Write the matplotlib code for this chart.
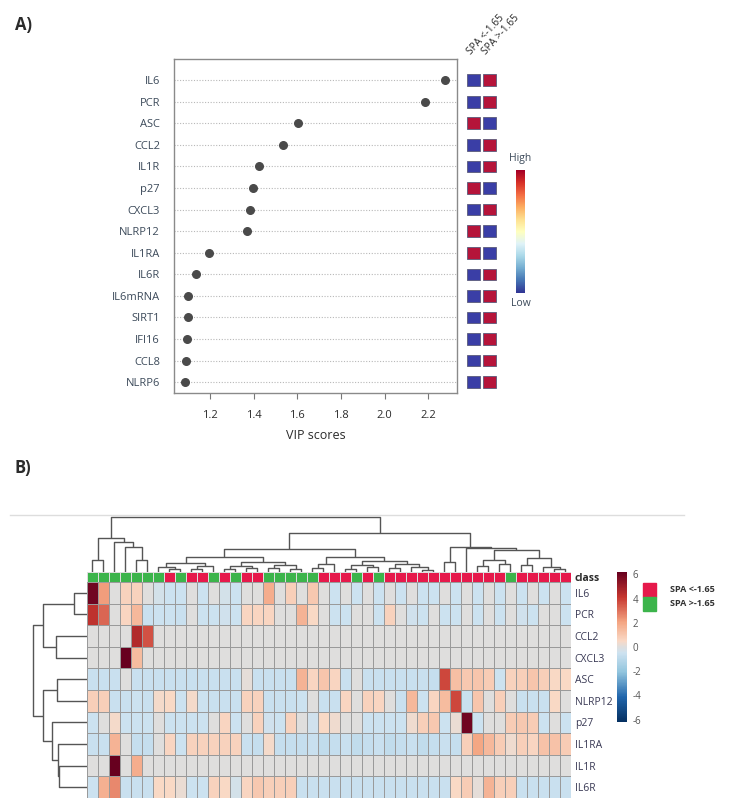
import matplotlib
matplotlib.use("Agg")
import matplotlib.pyplot as plt
import numpy as np
from matplotlib.colors import LinearSegmentedColormap, ListedColormap, Normalize
from matplotlib.cm import ScalarMappable
from matplotlib.lines import Line2D

# ---- panel A: VIP scores ----
VIP_FEATURES = ["IL6", "PCR", "ASC", "CCL2", "IL1R", "p27", "CXCL3", "NLRP12",
                "IL1RA", "IL6R", "IL6mRNA", "SIRT1", "IFI16", "CCL8", "NLRP6"]
VIP_SCORES = [2.275, 2.185, 1.605, 1.536, 1.426, 1.398, 1.383, 1.371,
              1.196, 1.135, 1.099, 1.097, 1.096, 1.089, 1.087]
# 1 -> feature is high in "SPA <-1.65", 0 -> high in "SPA >-1.65"
HIGH_IN_FIRST = [0, 0, 1, 0, 0, 1, 0, 1, 1, 0, 0, 0, 0, 0, 0]
GROUPS = ["SPA <-1.65", "SPA >-1.65"]
VIP_TICKS = [1.2, 1.4, 1.6, 1.8, 2.0, 2.2]

# ---- panel B: clustered heatmap ----
GENES = ["IL6", "PCR", "CCL2", "CXCL3", "ASC", "NLRP12", "p27", "IL1RA",
         "IL1R", "IL6R"]
# 0 -> SPA <-1.65, 1 -> SPA >-1.65
SAMPLE_CLASS = [1, 1, 1, 1, 1, 1, 1, 0, 1, 0, 0, 1, 0, 1, 0, 0, 1, 1, 1, 1, 1,
                0, 0, 0, 1, 0, 1, 0, 0, 0, 0, 0, 0, 0, 0, 0, 0, 0, 1, 0, 0, 0,
                0, 0]
IL6 = [6.0, 2.2, 0.0, 0.7, 0.7, 0.0, -0.3, -0.5, -0.5, 0.0, -0.5, 0.0, -0.3,
       -0.5, 0.0, 0.0, 1.8, 0.0, 0.8, 0.0, 1.0, 0.0, -0.5, 0.0, -0.5, 0.0,
       -0.5, 0.0, -0.5, 0.0, -0.5, -0.5, 0.0, -0.5, 0.0, -0.5, 0.0, -0.5, 0.0,
       -0.5, 0.0, -0.5, 0.0, -0.5]
PCR = [4.3, 3.2, 0.0, 0.6, 1.5, -0.6, -0.5, -0.5, -0.6, 0.0, -0.5, -0.5, -0.4,
       -0.5, 0.6, 0.6, 0.6, 0.0, 0.0, 1.6, 0.5, 0.0, -0.5, -0.5, 0.0, 0.0,
       -0.5, 0.7, 0.0, -0.4, -0.5, 0.0, -0.5, -0.5, 0.0, -0.5, 0.0, -0.5, 0.0,
       -0.4, -0.5, 0.0, 0.0, -0.5]
CCL2 = [0.0, 0.0, 0.0, 0.0, 4.6, 3.6, 0.0, 0.0, 0.0, 0.0, 0.0, 0.0, 0.0, 0.0,
        0.0, 0.0, 0.0, 0.0, 0.0, 0.0, 0.0, 0.0, 0.0, 0.0, 0.0, 0.0, 0.0, 0.0,
        0.0, 0.0, 0.0, 0.0, 0.0, 0.0, 0.0, 0.0, 0.0, 0.0, 0.0, 0.0, 0.0, 0.0,
        0.0, 0.0]
CXCL3 = [0.0, 0.0, 0.0, 6.2, 1.4, 0.0, 0.0, 0.0, 0.0, 0.0, 0.0, 0.0, 0.0, 0.0,
         0.0, 0.0, 0.0, 0.0, 0.0, 0.0, 0.0, 0.0, 0.0, 0.0, 0.0, 0.0, 0.0, 0.0,
         0.0, 0.0, 0.0, 0.0, 0.0, 0.0, 0.0, 0.0, 0.0, 0.0, 0.0, 0.0, 0.0, 0.0,
         0.0, 0.0]
ASC = [-0.6, -0.6, -0.6, 0.0, -0.6, -0.6, -0.6, -0.6, -0.6, -0.6, -0.6, -0.6,
       -0.6, -0.6, 0.1, -0.6, -0.6, -0.6, -0.6, 1.6, 0.6, 1.1, 0.6, -0.6, 0.0,
       -0.6, -0.6, -0.6, -0.6, -0.6, -0.6, -0.7, 3.8, 1.3, 1.0, 1.1, 0.9, -0.5,
       0.7, 0.8, 1.1, 0.8, 0.5, 0.5]
NLRP12 = [0.8, 0.8, -0.6, -0.6, -0.5, -0.6, 0.4, 0.5, -0.5, 0.4, -0.5, -0.6,
          -0.6, -0.6, 0.7, 0.7, -0.6, -0.6, -0.6, -0.5, 0.0, -0.6, -0.6, 0.6,
          0.0, 0.7, 0.6, 0.0, -0.6, 1.5, -0.5, 0.6, 1.4, 3.8, -0.6, 1.1, 0.0,
          0.8, 0.0, -0.6, -0.6, -0.6, 0.5, 0.0]
P27 = [-0.5, 0.0, 0.4, -0.5, -0.5, -0.5, 0.0, -0.5, -0.5, -0.5, -0.5, 0.0, 0.6,
       -0.5, 0.0, 0.7, -0.4, -0.5, 0.7, 0.0, -0.4, 0.5, 0.3, 0.0, 0.0, -0.5,
       -0.5, -0.5, -0.5, 0.3, 0.8, 1.0, -0.5, 0.2, 6.0, -0.5, 0.0, 0.0, 0.9,
       1.0, 0.9, -0.5, 0.0, -0.5]
IL1RA = [-0.6, -0.6, 1.6, 0.0, -0.7, -0.7, 0.0, 0.6, -0.5, 0.7, 0.7, 0.7, 0.7,
         0.7, -0.6, -0.7, 0.4, -0.7, -0.7, -0.7, -0.6, -0.8, -0.7, -0.6, -0.8,
         -0.7, -0.6, -0.8, -0.7, -0.6, -0.8, -0.7, -0.6, -0.7, 0.8, 2.0, 1.5,
         0.9, 0.3, 0.8, 0.6, 1.2, 1.2, 0.9]
IL1R = [0.0, 0.0, 6.2, 0.0, 1.8, 0.0, 0.0, 0.0, 0.0, 0.0, 0.0, 0.0, 0.0, 0.0,
        0.0, 0.0, 0.0, 0.0, 0.0, 0.0, 0.0, 0.0, 0.0, 0.0, 0.0, 0.0, 0.0, 0.0,
        0.0, 0.0, 0.0, 0.0, 0.0, 0.0, 0.0, 0.0, 0.0, 0.0, 0.0, 0.0, 0.0, 0.0,
        0.0, 0.0]
IL6R = [-0.5, 1.7, 2.6, -0.6, -0.6, -0.6, 0.5, 0.5, 0.2, -0.5, -0.5, 0.7, 0.5,
        -0.3, 0.6, 1.0, 0.8, 0.8, 0.8, -0.6, -0.6, -0.6, -0.6, -0.6, -0.6,
        -0.6, -0.6, -0.6, -0.6, -0.6, -0.6, -0.6, -0.6, 0.5, 0.9, 0.1, 1.6, 0.8,
        0.8, -0.6, -0.6, -0.6, -0.6, -0.6]
HEAT_TICKS = [6, 4, 2, 0, -2, -4, -6]

# dendrograms: (merge height, left, right), leaves are row / column indices
ROW_TREE = (53.5, (43.5, (13, 0, 1), (31, 2, 3)),
            (43.8, (29.8, 4, 5), (34.5, 6, (29, 7, (27.5, 8, 9)))))
COL_TREE = (55, (34, (12, 0, 1), (30, 2, (25, 3, (12, 4, 5)))),
            (39, (23, (15, (9, (5, 6, (3, 7, 8)), (6, (3, 9, 10), 11)),
                       (10, (6, (3, 12, 13), (4, 14, 15)),
                        (7, (4, 16, 17), (3, 18, 19)))),
                  (15, (8, (4, 20, 21), 22),
                   (11, (7, (3, 23, 24), (5, 25, 26)),
                    (8, (4, 27, 28), (5, 29, (2, 30, 31)))))),
             (25, (10, 32, 33),
              (24, 34, (22, (12, (6, 35, 36), (8, 37, 38)),
                        (14, (7, 39, 40), (5, 41, (3, 42, 43))))))))

INK = "#2b2b2b"
LABEL = "#3c4a5a"
DOT = "#4a4a4a"
BLUE_SQ = "#3a3ea6"
RED_SQ = "#b5143a"
CLS_RED = "#e6194b"
CLS_GREEN = "#3cb44b"
TREE = "#555555"

plt.rcParams["font.family"] = ["Open Sans", "DejaVu Sans"]
plt.rcParams["axes.unicode_minus"] = False

fig = plt.figure(figsize=(7.32, 8.09), dpi=100)
W, H = 732.0, 809.0


def box(x0, y0, x1, y1):
    # pixel box (top-left origin) -> figure fraction rect
    return [x0 / W, 1 - y1 / H, (x1 - x0) / W, (y1 - y0) / H]


# ---------------- panel A ----------------
fig.text(15 / W, 1 - 25 / H, "A)", fontsize=12, fontweight="bold",
         color=INK, va="center")

ax = fig.add_axes(box(174, 59, 457, 393))
rows = np.arange(len(VIP_FEATURES))
for r in rows:
    ax.axhline(r, color="#b8b8b8", lw=0.8, ls=(0, (1, 1.5)), zorder=1)
ax.scatter(VIP_SCORES, rows, s=30, color=DOT, zorder=3)
ax.set_xlim(1.035, 2.332)
ax.set_ylim(14.5, -0.98)
ax.set_yticks(rows)
ax.set_yticklabels(VIP_FEATURES, fontsize=8, color=LABEL)
ax.tick_params(axis="y", length=0, pad=10)
ax.set_xticks(VIP_TICKS)
ax.set_xticklabels([f"{t:.1f}" for t in VIP_TICKS], fontsize=8, color=INK)
ax.tick_params(axis="x", length=4, color="#777777", pad=8)
for s in ax.spines.values():
    s.set_color("#8a8a8a")
    s.set_linewidth(1.0)
ax.set_xlabel("VIP scores", fontsize=9, color=INK, labelpad=6)

# group squares
axs = fig.add_axes(box(466, 59, 497, 393), sharey=ax)
sq_colors = []
for hi in HIGH_IN_FIRST:
    sq_colors.append([RED_SQ, BLUE_SQ] if hi else [BLUE_SQ, RED_SQ])
for g in range(2):
    axs.barh(rows, 0.84, left=g + 0.08, height=0.54,
             color=[c[g] for c in sq_colors], edgecolor="#5a5a7a", lw=0.6)
    axs.text(g + 0.45, -1.05, GROUPS[g], rotation=48, fontsize=7.3,
             color=INK, ha="left", va="bottom", rotation_mode="anchor")
axs.set_xlim(0, 2)
axs.axis("off")

# High / Low colour key
axk = fig.add_axes(box(516, 170, 525, 293))
axk.imshow(np.linspace(1, 0, 200)[:, None], aspect="auto", cmap="RdYlBu_r")
axk.set_xticks([])
axk.set_yticks([])
for s in axk.spines.values():
    s.set_visible(False)
fig.text(520.5 / W, 1 - 159 / H, "High", fontsize=7.5, color=LABEL,
         ha="center", va="center")
fig.text(520.5 / W, 1 - 303 / H, "Low", fontsize=7.5, color=LABEL,
         ha="center", va="center")

# ---------------- panel B ----------------
fig.text(15 / W, 1 - 468 / H, "B)", fontsize=12, fontweight="bold",
         color=INK, va="center")
fig.add_artist(Line2D([10 / W, 684 / W], [1 - 515 / H, 1 - 515 / H],
                      color="#dddddd", lw=1.0))

values = np.array([IL6, PCR, CCL2, CXCL3, ASC, NLRP12, P27, IL1RA, IL1R,
                   IL6R])
heat_cmap = LinearSegmentedColormap.from_list(
    "rdbu_grey",
    [(0.0, "#053061"), (1 / 6, "#2166ac"), (2 / 6, "#92c5de"),
     (0.46, "#cde2f0"), (0.5, "#dedede"), (0.54, "#f9d9c6"),
     (4 / 6, "#f4a582"), (5 / 6, "#c6362f"), (1.0, "#67001f")])
norm = Normalize(-6.2, 6.2)

axh = fig.add_axes(box(86.5, 582, 570.5, 798))
axh.pcolormesh(values, cmap=heat_cmap, norm=norm, edgecolors="#9a9a9a",
               linewidth=0.6)
axh.set_xlim(0, values.shape[1])
axh.set_ylim(values.shape[0], 0)
axh.set_xticks([])
axh.yaxis.tick_right()
axh.set_yticks(np.arange(len(GENES)) + 0.5)
axh.set_yticklabels(GENES, fontsize=7.5, color="#3a3a55")
axh.tick_params(axis="y", length=0, pad=3)
for s in axh.spines.values():
    s.set_visible(False)

axc = fig.add_axes(box(86.5, 572, 570.5, 581.5))
axc.pcolormesh(np.array([SAMPLE_CLASS]),
               cmap=ListedColormap([CLS_RED, CLS_GREEN]), vmin=0, vmax=1,
               edgecolors="#dddddd", linewidth=0.4)
axc.set_xlim(0, len(SAMPLE_CLASS))
axc.set_xticks([])
axc.yaxis.tick_right()
axc.set_yticks([0.5])
axc.set_yticklabels(["class"], fontsize=7.5, fontweight="bold", color=INK)
axc.tick_params(axis="y", length=0, pad=3)
for s in axc.spines.values():
    s.set_visible(False)


def draw_tree(a, node, top):
    """Draw one merge per node; leaves sit at index + 0.5."""
    if isinstance(node, int):
        return node + 0.5, 0.0
    h, left, right = node
    pl, hl = draw_tree(a, left, top)
    pr, hr = draw_tree(a, right, top)
    pos = [pl, pl, pr, pr]
    hts = [hl, h, h, hr]
    if top:
        a.plot(pos, hts, color=TREE, lw=1.0, solid_capstyle="butt")
    else:
        a.plot(hts, pos, color=TREE, lw=1.0, solid_capstyle="butt")
    return (pl + pr) / 2, h


axd = fig.add_axes(box(86.5, 515, 570.5, 572))
draw_tree(axd, COL_TREE, True)
axd.set_xlim(0, len(SAMPLE_CLASS))
axd.set_ylim(0, 57)
axd.axis("off")

axr = fig.add_axes(box(30, 582, 86.5, 798))
draw_tree(axr, ROW_TREE, False)
axr.set_ylim(len(GENES), 0)
axr.set_xlim(56.5, 0)
axr.axis("off")

# heatmap colour bar
axb = fig.add_axes(box(617, 572, 627, 722))
cb = fig.colorbar(ScalarMappable(norm=norm, cmap=heat_cmap), cax=axb,
                  ticks=HEAT_TICKS)
cb.outline.set_visible(False)
axb.tick_params(length=0, labelsize=7, colors="#555555", pad=4)

# class legend
for i, (col, lab) in enumerate(((CLS_RED, "SPA <-1.65"),
                                (CLS_GREEN, "SPA >-1.65"))):
    y0 = 583 + i * 14
    fig.add_artist(plt.Rectangle((643 / W, 1 - (y0 + 14) / H), 13 / W,
                                 14 / H, color=col, transform=fig.transFigure))
    fig.text(670 / W, 1 - (y0 + 6.5) / H, lab, fontsize=6.5,
             fontweight="bold", color="#333333", va="center")

fig.savefig("out.png", dpi=100, facecolor="white")
